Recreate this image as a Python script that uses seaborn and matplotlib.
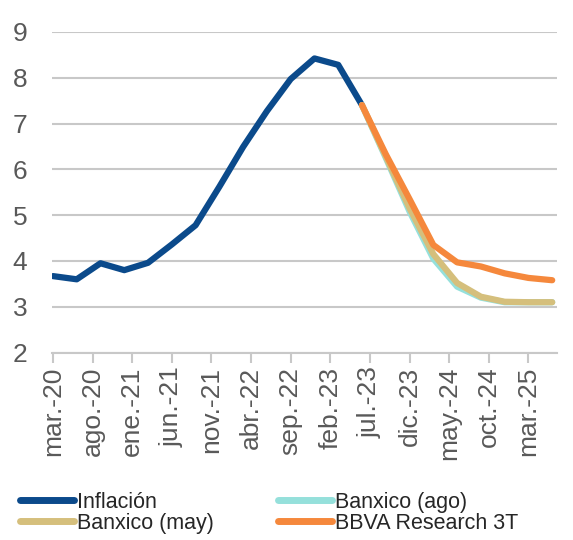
import numpy as np
import pandas as pd
import matplotlib
matplotlib.use("Agg")
import matplotlib.pyplot as plt
import seaborn as sns

# Data (quarterly, months since mar-20)
quarters = ["mar-20", "jun-20", "sep-20", "dic-20", "mar-21", "jun-21", "sep-21", "dic-21",
            "mar-22", "jun-22", "sep-22", "dic-22", "mar-23", "jun-23", "sep-23", "dic-23",
            "mar-24", "jun-24", "sep-24", "dic-24", "mar-25", "jun-25"]
month_index = [0, 3, 6, 9, 12, 15, 18, 21, 24, 27, 30, 33, 36, 39, 42, 45, 48, 51, 54, 57, 60, 63]

inflacion = [3.67, 3.60, 3.95, 3.80, 3.96, 4.36, 4.78, 5.62, 6.49, 7.27, 7.97, 8.42, 8.28, 7.40]
banxico_ago = [7.40, 6.25, 5.08, 4.05, 3.44, 3.20, 3.10, 3.10, 3.10]
banxico_may = [7.40, 6.28, 5.15, 4.15, 3.52, 3.22, 3.11, 3.10, 3.10]
bbva_3t = [7.40, 6.33, 5.35, 4.35, 3.97, 3.88, 3.73, 3.63, 3.58]

tick_pos = [0, 5, 10, 15, 20, 25, 30, 35, 40, 45, 50, 55, 60]
tick_labels = ["mar.-20", "ago.-20", "ene.-21", "jun.-21", "nov.-21", "abr.-22", "sep.-22",
               "feb.-23", "jul.-23", "dic.-23", "may.-24", "oct.-24", "mar.-25"]

series_names = ["Inflación", "Banxico (ago)", "Banxico (may)", "BBVA Research 3T"]
colors = ["#0b4a8b", "#95e0db", "#d5bf7c", "#f5883c"]

# Build long table
rows = []
for m, v in zip(month_index[:len(inflacion)], inflacion):
    rows.append({"mes": m, "valor": v, "serie": series_names[0]})
fc_months = month_index[len(inflacion) - 1:]
for name, vals in zip(series_names[1:], [banxico_ago, banxico_may, bbva_3t]):
    for m, v in zip(fc_months, vals):
        rows.append({"mes": m, "valor": v, "serie": name})
df = pd.DataFrame(rows)

sns.set_theme(style="white")
plt.rcParams["font.family"] = ["Liberation Sans", "DejaVu Sans"]

fig = plt.figure(figsize=(5.73, 5.40), dpi=100)
ax = fig.add_axes([0.091, 0.347, 0.881, 0.594])

sns.lineplot(
    data=df,
    x="mes",
    y="valor",
    hue="serie",
    hue_order=series_names,
    palette=colors,
    linewidth=4.5,
    ax=ax,
    legend=False
)

ax.set_xlim(-0.1, 63.6)
ax.set_ylim(2, 9)
ax.set_yticks(range(2, 10))
ax.set_xticks(tick_pos)
ax.set_xticklabels(tick_labels, rotation=90)
ax.set_xlabel("")
ax.set_ylabel("")

ax.grid(axis="y", color="#c8c8c8", linewidth=1.5)
ax.set_axisbelow(True)
for side in ["left", "right", "top"]:
    ax.spines[side].set_visible(False)
ax.spines["bottom"].set_color("#c8c8c8")
ax.spines["bottom"].set_linewidth(1.5)

ax.tick_params(axis="x", bottom=True, length=7, width=1.5, color="#c8c8c8",
               labelsize=19, labelcolor="#595959", pad=3)
ax.tick_params(axis="y", left=False, labelsize=19, labelcolor="#595959", pad=12)

# Legend, row-major order
handles = [plt.Line2D([], [], color=c, linewidth=5, solid_capstyle="round") for c in colors]
order = [0, 2, 1, 3]
fig.legend(
    [handles[i] for i in order],
    [series_names[i] for i in order],
    loc="lower left",
    bbox_to_anchor=(0.012, -0.012),
    ncol=2,
    frameon=False,
    fontsize=15.5,
    handlelength=2.5,
    handletextpad=0.15,
    labelspacing=0.0,
    columnspacing=3.0,
    borderaxespad=0.2
)

fig.savefig("out.png", dpi=100)
